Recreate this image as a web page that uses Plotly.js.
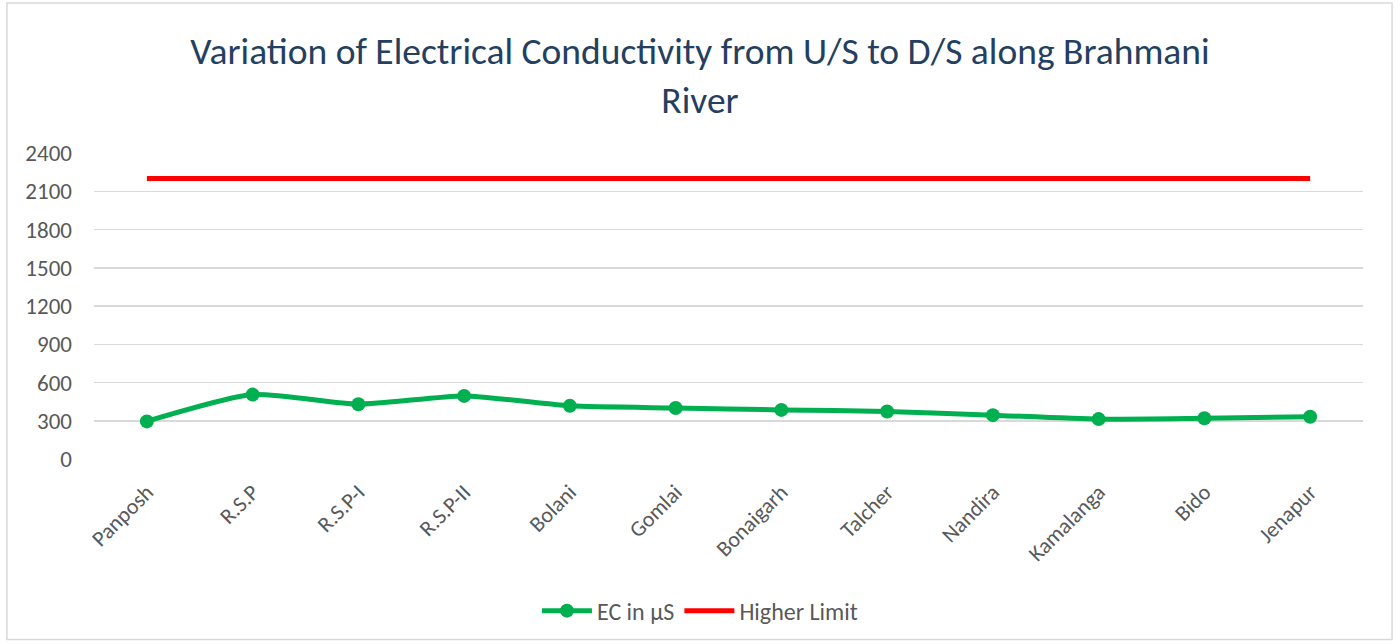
<!DOCTYPE html>
<html>
<head>
<meta charset="utf-8">
<script src="https://cdn.plot.ly/plotly-3.0.1.min.js"></script>
<style>
html,body{margin:0;padding:0;background:#fff;}
#chart{width:1400px;height:644px;}
</style>
</head>
<body>
<div id="chart"></div>
<script>
const categories = ["Panposh","R.S.P","R.S.P-I","R.S.P-II","Bolani","Gomlai","Bonaigarh","Talcher","Nandira","Kamalanga","Bido","Jenapur"];
const ecValues = [295, 505, 430, 495, 417, 400, 385, 373, 344, 313, 320, 331];
const higherLimit = [2200, 2200, 2200, 2200, 2200, 2200, 2200, 2200, 2200, 2200, 2200, 2200];
const yTicks = [0, 300, 600, 900, 1200, 1500, 1800, 2100, 2400];

const fontFam = "Carlito, 'Open Sans', 'Liberation Sans', sans-serif";

const traces = [
  {
    x: categories, y: ecValues, name: "EC in µS", type: "scatter", mode: "lines+markers",
    line: {color: "#00B050", width: 5, shape: "spline", smoothing: 0.6},
    marker: {color: "#00B050", size: 14}
  },
  {
    x: categories, y: higherLimit, name: "Higher Limit", type: "scatter", mode: "lines",
    line: {color: "#FF0000", width: 5}
  }
];

const layout = {
  width: 1400, height: 644,
  paper_bgcolor: "#fff", plot_bgcolor: "#fff",
  margin: {l: 94, r: 37, t: 153, b: 184},
  font: {family: fontFam, color: "#595959", size: 22},
  title: {
    text: "Variation of Electrical Conductivity from U/S to D/S along Brahmani<br>River",
    font: {family: fontFam, size: 37.5, color: "#243F60"},
    x: 0.5, xref: "container", xanchor: "center", yref: "container", y: 0.9, yanchor: "top"
  },
  xaxis: {
    type: "category", tickangle: -45, showgrid: false, zeroline: false,
    showline: false, ticks: "", tickfont: {size: 22, color: "#595959"},
    range: [-0.5, categories.length - 0.5], ticklabelstandoff: 15
  },
  yaxis: {
    range: [0, 2400], tickvals: yTicks, ticktext: yTicks.map(String),
    showgrid: true, gridcolor: "#D9D9D9", gridwidth: 1.5, zeroline: false,
    showline: false, ticks: "", tickfont: {size: 23, color: "#595959"},
    automargin: false, ticklabelstandoff: 21
  },
  showlegend: true,
  legend: {
    orientation: "h", x: 0.4775, xanchor: "center", y: -0.492, yanchor: "middle",
    font: {size: 24, color: "#595959"}, itemwidth: 50, traceorder: "normal"
  },
  shapes: [
    {type: "rect", xref: "paper", yref: "paper", x0: -0.0686, x1: 1.0229, y0: -0.59, y1: 1.49,
     line: {color: "#D9D9D9", width: 1.5}, fillcolor: "rgba(0,0,0,0)", layer: "below"}
  ]
};

Plotly.newPlot("chart", traces, layout, {displayModeBar: false, staticPlot: true});
</script>
</body>
</html>
